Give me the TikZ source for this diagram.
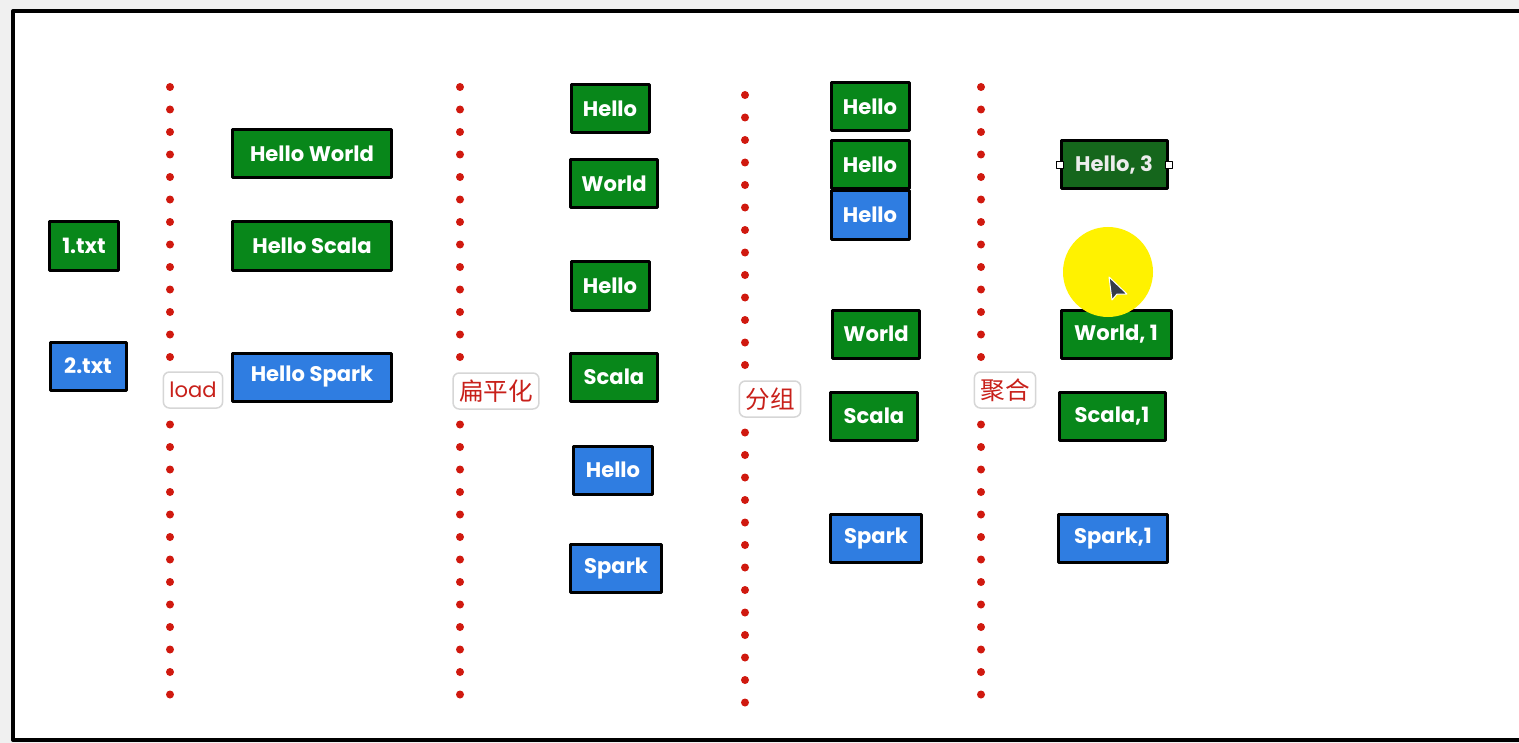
\documentclass[tikz,border=0pt]{standalone}
\usepackage{fontspec}
\setmainfont{Poppins}
\newfontfamily\cjk{Noto Sans CJK SC}
\usetikzlibrary{positioning}
\definecolor{boxgreen}{HTML}{08871A}
\definecolor{boxblue}{HTML}{2F7DE1}
\definecolor{selgreen}{HTML}{15661C}
\definecolor{dotred}{HTML}{D0190F}
\definecolor{tagred}{HTML}{C8201A}
\definecolor{taggray}{HTML}{D6D6D6}
\definecolor{pagegray}{HTML}{F0F0F0}
\definecolor{cursorgray}{HTML}{363C48}
\tikzset{
    every picture/.style={line join=round},
    word/.style={draw=black,line width=0.6mm,text=white,
      minimum height=9.6mm,inner sep=1pt,font=\fontsize{12}{14}\selectfont\bfseries},
    greenword/.style={word,fill=boxgreen},
    blueword/.style={word,fill=boxblue},
    steptag/.style={draw=taggray,fill=white,rounded corners=1.2mm,line width=0.3mm,
      text=tagred,minimum height=7.2mm,inner xsep=1.2mm,font=\fontsize{12}{14}\selectfont},
    redline/.style={draw=dotred,line width=1.6mm,line cap=round,
      dash pattern=on 0pt off 4.5mm},
    handle/.style={draw=black,fill=white,line width=0.2mm,minimum size=1.4mm,inner sep=0pt}
}

\begin{document}
\begin{tikzpicture}[x=0.2mm,y=-0.2mm]
  \useasboundingbox (0,0) rectangle (1519,743);
  \fill[pagegray] (0,0) rectangle (1519,743);
  \fill[white] (13,11) rectangle (1519,740);
  \draw[line width=0.8mm] (1519,11) -- (13,11) -- (13,740) -- (1519,740);

  % stage separators
  \draw[redline] (170,87) -- (170,695);
  \draw[redline] (460,87) -- (460,695);
  \draw[redline] (745,95) -- (745,703);
  \draw[redline] (981,87) -- (981,695);
  \node[steptag] (load) at (193,390) {load};
  \node[steptag,font=\fontsize{14}{16}\selectfont] (flat) at (496,391) {\cjk 扁平化};
  \node[steptag,font=\fontsize{14}{16}\selectfont] (group) at (770,399) {\cjk 分组};
  \node[steptag,font=\fontsize{14}{16}\selectfont] (reduce) at (1005,390) {\cjk 聚合};

  % files
  \node[greenword,minimum width=13.8mm] (f1) at (84,246) {1.txt};
  \node[blueword,minimum width=15.2mm] (f2) at (88,366) {2.txt};

  % lines
  \node[greenword,minimum width=31.8mm] (l1) at (312,154) {Hello World};
  \node[greenword,minimum width=31.8mm] (l2) at (312,246) {Hello Scala};
  \node[blueword,minimum width=31.8mm] (l3) at (312,377) {Hello Spark};

  % words
  \node[greenword,minimum width=15.6mm] (w1) at (610,109) {Hello};
  \node[greenword,minimum width=17.4mm] (w2) at (614,184) {World};
  \node[greenword,minimum width=15.6mm] (w3) at (610,286) {Hello};
  \node[greenword,minimum width=17.4mm] (w4) at (614,377) {Scala};
  \node[blueword,minimum width=15.8mm] (w5) at (613,470) {Hello};
  \node[blueword,minimum width=18.2mm] (w6) at (616,568) {Spark};

  % groups
  \node[greenword,minimum width=15.6mm] (g1) at (870,107) {Hello};
  \node[greenword,minimum width=15.6mm] (g2) at (870,165) {Hello};
  \node[blueword,minimum width=15.6mm] (g3) at (870,215) {Hello};
  \node[greenword,minimum width=17.4mm] (g4) at (876,334) {World};
  \node[greenword,minimum width=17.4mm] (g5) at (874,416) {Scala};
  \node[blueword,minimum width=18.2mm] (g6) at (876,538) {Spark};

  % counts
  \node[word,fill=selgreen,text=white!85!gray,minimum width=21.2mm] (a1) at (1114,165) {Hello, 3};
  \node[handle] at (a1.west) {};
  \node[handle] at (a1.east) {};
  \node[greenword,minimum width=22mm] (a2) at (1116,334) {World, 1};
  \node[greenword,minimum width=21.2mm] (a3) at (1112,416) {Scala,1};
  \node[blueword,minimum width=21.8mm] (a4) at (1113,538) {Spark,1};

  % pointer
  \fill[yellow] (1108,272) circle[radius=9mm];
  \filldraw[fill=cursorgray,draw=white,line width=0.2mm]
    (1109,277) -- (1112,300) -- (1117,294) -- (1127,294) -- cycle;
\end{tikzpicture}
\end{document}
